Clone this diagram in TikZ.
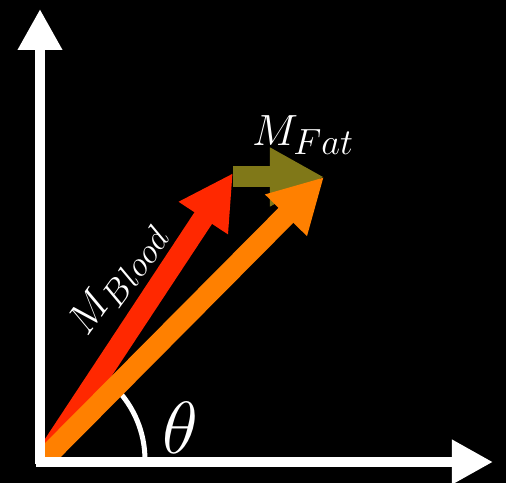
\documentclass[tikz,border=0pt]{standalone}
\usetikzlibrary{arrows.meta}
\usepackage{amsmath}
\definecolor{bloodred}{RGB}{255,40,0}
\definecolor{fatolive}{RGB}{128,120,24}
\definecolor{sumorange}{RGB}{255,128,0}

\begin{document}
\begin{tikzpicture}[
  axis/.style={white,line width=0.2cm,-{Triangle[length=0.82cm,width=0.84cm]}},
  vec/.style={line width=0.42cm,-{Triangle[length=1.08cm,width=1.1cm]}},
  lab/.style={white,inner sep=0pt,font=\Huge}]
% background
\fill[black] (-0.84,-0.46) rectangle (9.28,9.2);
% points
\coordinate (O) at (0.06,0.04);
\coordinate (blood) at (3.82,5.74);
\coordinate (fat) at (5.64,5.66);
% angle
\draw[white,line width=0.1cm] (2.06,0) arc[start angle=0,end angle=45,radius=2.06];
\node[lab,scale=1.69] (theta) at (2.76,0.64) {$\theta$};
% vectors
\draw[vec,bloodred] (O) -- (blood);
\draw[vec,fatolive] (blood |- fat) -- (fat);
\draw[vec,sumorange] (O) -- (fat);
% axes
\draw[axis] (-0.04,-0.08) -- (-0.04,9.02);
\draw[axis] (-0.12,-0.04) -- (9.02,-0.04);
% labels
\node[lab] (mfat) at (5.22,6.5) {$M_{Fat}$};
\node[lab,rotate=54,scale=0.96] (mblood) at (1.52,3.62) {$M_{Blood}$};
\end{tikzpicture}
\end{document}
